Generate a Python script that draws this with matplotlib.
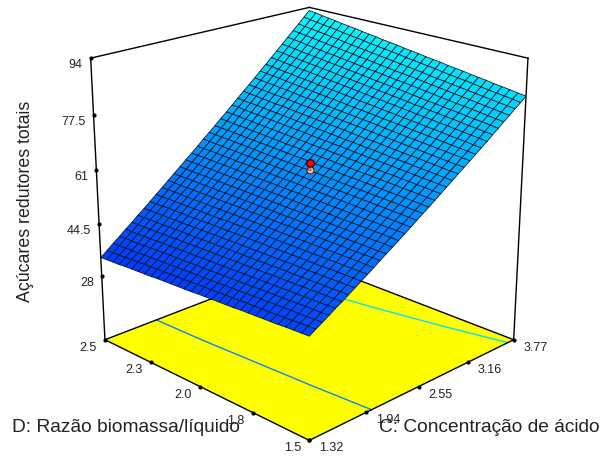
import numpy as np
import matplotlib
matplotlib.use('Agg')
import matplotlib.pyplot as plt
from matplotlib.colors import LinearSegmentedColormap, Normalize
from mpl_toolkits.mplot3d import proj3d

plt.rcParams['font.family'] = ['Liberation Sans', 'DejaVu Sans']

c_ticks = [1.32, 1.94, 2.55, 3.16, 3.77]
d_ticks = [1.5, 1.75, 2.0, 2.25, 2.5]
d_labels = ['1.5', '1.8', '2.0', '2.3', '2.5']
z_ticks = [28, 44.5, 61, 77.5, 94]
z_labels = ['28', '44.5', '61', '77.5', '94']
z_floor = 7.5

# alturas da superficie: linhas = D (1.5 a 2.5), colunas = C (1.32 a 3.77)
z_grid = [
    [37.5, 38.7, 39.8, 41.0, 42.2, 43.3, 44.5, 45.7, 46.9, 48.1, 49.3, 50.6, 51.8, 53.0, 54.2, 55.5, 56.7, 58.0, 59.3, 60.5, 61.8, 63.1, 64.4, 65.7, 67.0, 68.3, 69.6, 70.9, 72.2, 73.5, 74.9, 76.2, 77.6, 78.9, 80.3, 81.6, 83.0],
    [37.4, 38.6, 39.7, 40.9, 42.1, 43.3, 44.5, 45.7, 46.9, 48.1, 49.3, 50.6, 51.8, 53.1, 54.3, 55.6, 56.8, 58.1, 59.4, 60.6, 61.9, 63.2, 64.5, 65.8, 67.1, 68.4, 69.8, 71.1, 72.4, 73.8, 75.1, 76.5, 77.8, 79.2, 80.6, 82.0, 83.3],
    [37.3, 38.5, 39.6, 40.8, 42.0, 43.2, 44.4, 45.7, 46.9, 48.1, 49.4, 50.6, 51.8, 53.1, 54.4, 55.6, 56.9, 58.2, 59.5, 60.8, 62.1, 63.4, 64.7, 66.0, 67.3, 68.6, 70.0, 71.3, 72.7, 74.0, 75.4, 76.8, 78.1, 79.5, 80.9, 82.3, 83.7],
    [37.2, 38.3, 39.5, 40.8, 42.0, 43.2, 44.4, 45.6, 46.9, 48.1, 49.4, 50.6, 51.9, 53.1, 54.4, 55.7, 57.0, 58.3, 59.6, 60.9, 62.2, 63.5, 64.8, 66.2, 67.5, 68.8, 70.2, 71.5, 72.9, 74.3, 75.6, 77.0, 78.4, 79.8, 81.2, 82.6, 84.0],
    [37.0, 38.2, 39.5, 40.7, 41.9, 43.1, 44.4, 45.6, 46.9, 48.1, 49.4, 50.6, 51.9, 53.2, 54.5, 55.8, 57.1, 58.4, 59.7, 61.0, 62.3, 63.7, 65.0, 66.3, 67.7, 69.0, 70.4, 71.8, 73.1, 74.5, 75.9, 77.3, 78.7, 80.1, 81.5, 82.9, 84.3],
    [36.9, 38.1, 39.4, 40.6, 41.8, 43.1, 44.3, 45.6, 46.8, 48.1, 49.4, 50.7, 51.9, 53.2, 54.5, 55.8, 57.1, 58.5, 59.8, 61.1, 62.5, 63.8, 65.2, 66.5, 67.9, 69.2, 70.6, 72.0, 73.4, 74.8, 76.2, 77.6, 79.0, 80.4, 81.8, 83.2, 84.7],
    [36.8, 38.0, 39.3, 40.5, 41.8, 43.0, 44.3, 45.5, 46.8, 48.1, 49.4, 50.7, 52.0, 53.3, 54.6, 55.9, 57.2, 58.6, 59.9, 61.2, 62.6, 64.0, 65.3, 66.7, 68.1, 69.4, 70.8, 72.2, 73.6, 75.0, 76.4, 77.8, 79.2, 80.7, 82.1, 83.6, 85.0],
    [36.7, 37.9, 39.2, 40.4, 41.7, 43.0, 44.2, 45.5, 46.8, 48.1, 49.4, 50.7, 52.0, 53.3, 54.6, 56.0, 57.3, 58.7, 60.0, 61.4, 62.7, 64.1, 65.5, 66.8, 68.2, 69.6, 71.0, 72.4, 73.8, 75.3, 76.7, 78.1, 79.5, 81.0, 82.4, 83.9, 85.3],
    [36.6, 37.8, 39.1, 40.4, 41.6, 42.9, 44.2, 45.5, 46.8, 48.1, 49.4, 50.7, 52.0, 53.4, 54.7, 56.1, 57.4, 58.8, 60.1, 61.5, 62.9, 64.2, 65.6, 67.0, 68.4, 69.8, 71.2, 72.6, 74.1, 75.5, 76.9, 78.4, 79.8, 81.3, 82.7, 84.2, 85.7],
    [36.5, 37.7, 39.0, 40.3, 41.6, 42.9, 44.2, 45.5, 46.8, 48.1, 49.4, 50.7, 52.1, 53.4, 54.8, 56.1, 57.5, 58.9, 60.2, 61.6, 63.0, 64.4, 65.8, 67.2, 68.6, 70.0, 71.4, 72.9, 74.3, 75.7, 77.2, 78.6, 80.1, 81.6, 83.0, 84.5, 86.0],
    [36.3, 37.6, 38.9, 40.2, 41.5, 42.8, 44.1, 45.4, 46.8, 48.1, 49.4, 50.8, 52.1, 53.5, 54.8, 56.2, 57.6, 59.0, 60.3, 61.7, 63.1, 64.5, 65.9, 67.4, 68.8, 70.2, 71.6, 73.1, 74.5, 76.0, 77.4, 78.9, 80.4, 81.9, 83.3, 84.8, 86.3],
    [36.2, 37.5, 38.8, 40.1, 41.4, 42.7, 44.1, 45.4, 46.7, 48.1, 49.4, 50.8, 52.1, 53.5, 54.9, 56.3, 57.6, 59.0, 60.4, 61.8, 63.3, 64.7, 66.1, 67.5, 69.0, 70.4, 71.8, 73.3, 74.8, 76.2, 77.7, 79.2, 80.7, 82.2, 83.6, 85.2, 86.7],
    [36.1, 37.4, 38.7, 40.0, 41.4, 42.7, 44.0, 45.4, 46.7, 48.1, 49.4, 50.8, 52.2, 53.6, 54.9, 56.3, 57.7, 59.1, 60.6, 62.0, 63.4, 64.8, 66.2, 67.7, 69.1, 70.6, 72.1, 73.5, 75.0, 76.5, 78.0, 79.5, 81.0, 82.5, 84.0, 85.5, 87.0],
    [36.0, 37.3, 38.6, 39.9, 41.3, 42.6, 44.0, 45.3, 46.7, 48.1, 49.4, 50.8, 52.2, 53.6, 55.0, 56.4, 57.8, 59.2, 60.7, 62.1, 63.5, 65.0, 66.4, 67.9, 69.3, 70.8, 72.3, 73.8, 75.2, 76.7, 78.2, 79.8, 81.3, 82.8, 84.3, 85.8, 87.3],
    [35.9, 37.2, 38.5, 39.9, 41.2, 42.6, 43.9, 45.3, 46.7, 48.1, 49.5, 50.8, 52.2, 53.6, 55.0, 56.5, 57.9, 59.3, 60.8, 62.2, 63.7, 65.1, 66.6, 68.0, 69.5, 71.0, 72.5, 74.0, 75.5, 77.0, 78.5, 80.0, 81.5, 83.0, 84.6, 86.1, 87.7],
    [35.8, 37.1, 38.4, 39.8, 41.2, 42.5, 43.9, 45.3, 46.7, 48.1, 49.5, 50.9, 52.3, 53.7, 55.1, 56.5, 58.0, 59.4, 60.9, 62.3, 63.8, 65.3, 66.7, 68.2, 69.7, 71.2, 72.7, 74.2, 75.7, 77.2, 78.7, 80.3, 81.8, 83.3, 84.9, 86.4, 88.0],
    [35.6, 37.0, 38.3, 39.7, 41.1, 42.5, 43.9, 45.3, 46.7, 48.1, 49.5, 50.9, 52.3, 53.7, 55.2, 56.6, 58.1, 59.5, 61.0, 62.5, 63.9, 65.4, 66.9, 68.4, 69.9, 71.4, 72.9, 74.4, 75.9, 77.5, 79.0, 80.5, 82.1, 83.6, 85.2, 86.8, 88.3],
    [35.5, 36.9, 38.3, 39.6, 41.0, 42.4, 43.8, 45.2, 46.6, 48.1, 49.5, 50.9, 52.3, 53.8, 55.2, 56.7, 58.1, 59.6, 61.1, 62.6, 64.0, 65.5, 67.0, 68.6, 70.1, 71.6, 73.1, 74.6, 76.2, 77.7, 79.3, 80.8, 82.4, 83.9, 85.5, 87.1, 88.7],
    [35.4, 36.8, 38.2, 39.6, 41.0, 42.4, 43.8, 45.2, 46.6, 48.1, 49.5, 50.9, 52.4, 53.8, 55.3, 56.8, 58.2, 59.7, 61.2, 62.7, 64.2, 65.7, 67.2, 68.7, 70.2, 71.8, 73.3, 74.9, 76.4, 78.0, 79.5, 81.1, 82.6, 84.2, 85.8, 87.4, 89.0],
    [35.3, 36.7, 38.1, 39.5, 40.9, 42.3, 43.7, 45.2, 46.6, 48.1, 49.5, 51.0, 52.4, 53.9, 55.3, 56.8, 58.3, 59.8, 61.3, 62.8, 64.3, 65.8, 67.4, 68.9, 70.4, 72.0, 73.5, 75.1, 76.7, 78.2, 79.8, 81.4, 82.9, 84.5, 86.1, 87.7, 89.3],
    [35.2, 36.6, 38.0, 39.4, 40.8, 42.3, 43.7, 45.1, 46.6, 48.0, 49.5, 51.0, 52.4, 53.9, 55.4, 56.9, 58.4, 59.9, 61.4, 62.9, 64.4, 66.0, 67.5, 69.1, 70.6, 72.2, 73.7, 75.3, 76.9, 78.5, 80.0, 81.6, 83.2, 84.8, 86.4, 88.0, 89.7],
    [35.1, 36.5, 37.9, 39.3, 40.8, 42.2, 43.6, 45.1, 46.6, 48.0, 49.5, 51.0, 52.5, 54.0, 55.5, 57.0, 58.5, 60.0, 61.5, 63.1, 64.6, 66.1, 67.7, 69.2, 70.8, 72.4, 74.0, 75.5, 77.1, 78.7, 80.3, 81.9, 83.5, 85.1, 86.7, 88.4, 90.0],
    [34.9, 36.4, 37.8, 39.3, 40.7, 42.1, 43.6, 45.1, 46.5, 48.0, 49.5, 51.0, 52.5, 54.0, 55.5, 57.0, 58.6, 60.1, 61.6, 63.2, 64.7, 66.3, 67.8, 69.4, 71.0, 72.6, 74.1, 75.7, 77.3, 79.0, 80.6, 82.2, 83.8, 85.4, 87.0, 88.7, 90.3],
    [34.8, 36.3, 37.7, 39.2, 40.6, 42.1, 43.6, 45.0, 46.5, 48.0, 49.5, 51.0, 52.5, 54.1, 55.6, 57.1, 58.6, 60.2, 61.8, 63.3, 64.9, 66.4, 68.0, 69.6, 71.2, 72.8, 74.3, 76.0, 77.6, 79.2, 80.8, 82.4, 84.1, 85.7, 87.3, 89.0, 90.7],
    [34.7, 36.2, 37.6, 39.1, 40.6, 42.0, 43.5, 45.0, 46.5, 48.0, 49.5, 51.1, 52.6, 54.1, 55.6, 57.2, 58.7, 60.3, 61.9, 63.4, 65.0, 66.6, 68.2, 69.8, 71.4, 73.0, 74.6, 76.2, 77.8, 79.5, 81.1, 82.7, 84.3, 86.0, 87.7, 89.3, 91.0],
    [34.6, 36.1, 37.5, 39.0, 40.5, 42.0, 43.5, 45.0, 46.5, 48.0, 49.5, 51.1, 52.6, 54.2, 55.7, 57.3, 58.8, 60.4, 62.0, 63.5, 65.1, 66.7, 68.3, 69.9, 71.5, 73.2, 74.8, 76.4, 78.0, 79.7, 81.3, 83.0, 84.6, 86.3, 88.0, 89.7, 91.3],
    [34.5, 36.0, 37.4, 38.9, 40.4, 41.9, 43.4, 44.9, 46.5, 48.0, 49.5, 51.1, 52.6, 54.2, 55.8, 57.3, 58.9, 60.5, 62.1, 63.7, 65.3, 66.9, 68.5, 70.1, 71.7, 73.3, 75.0, 76.6, 78.3, 79.9, 81.6, 83.2, 84.9, 86.6, 88.3, 90.0, 91.7],
    [34.3, 35.8, 37.3, 38.8, 40.3, 41.9, 43.4, 44.9, 46.5, 48.0, 49.6, 51.1, 52.7, 54.2, 55.8, 57.4, 59.0, 60.6, 62.2, 63.8, 65.4, 67.0, 68.6, 70.3, 71.9, 73.5, 75.2, 76.9, 78.5, 80.2, 81.8, 83.5, 85.2, 86.9, 88.6, 90.3, 92.0],
    [34.2, 35.7, 37.2, 38.8, 40.3, 41.8, 43.4, 44.9, 46.4, 48.0, 49.6, 51.1, 52.7, 54.3, 55.9, 57.5, 59.1, 60.7, 62.3, 63.9, 65.5, 67.2, 68.8, 70.4, 72.1, 73.7, 75.4, 77.1, 78.7, 80.4, 82.1, 83.8, 85.5, 87.2, 88.9, 90.6, 92.3],
    [34.1, 35.6, 37.1, 38.7, 40.2, 41.8, 43.3, 44.9, 46.4, 48.0, 49.6, 51.2, 52.7, 54.3, 55.9, 57.5, 59.1, 60.8, 62.4, 64.0, 65.7, 67.3, 69.0, 70.6, 72.3, 73.9, 75.6, 77.3, 79.0, 80.7, 82.4, 84.1, 85.8, 87.5, 89.2, 90.9, 92.7],
    [34.0, 35.5, 37.1, 38.6, 40.2, 41.7, 43.3, 44.8, 46.4, 48.0, 49.6, 51.2, 52.8, 54.4, 56.0, 57.6, 59.2, 60.9, 62.5, 64.1, 65.8, 67.4, 69.1, 70.8, 72.5, 74.1, 75.8, 77.5, 79.2, 80.9, 82.6, 84.3, 86.1, 87.8, 89.5, 91.3, 93.0],
]
blue_c = [1.885, 1.9, 1.93, 1.96, 2.0]
blue_d = [2.5, 2.25, 2.0, 1.75, 1.5]
cyan_c = [3.22, 3.32, 3.43, 3.55, 3.69]
cyan_d = [2.5, 2.25, 2.0, 1.75, 1.5]
point_c = [2.55, 2.55]
point_d = [2.0, 2.0]
point_z = [63.0, 61.0]

fig = plt.figure(figsize=(6.05, 4.57), dpi=100)
W = 800
cx, cy = 298.5, 214.5
ax = fig.add_axes([(cx - W / 2) / 605, 1 - (cy + W / 2) / 457, W / 605, W / 457],
                  projection='3d', computed_zorder=False)
ax.set_proj_type('persp', focal_length=0.36)
ax.view_init(elev=20.5, azim=-135)
ax.set_xlim(1.32, 3.77)
ax.set_ylim(1.5, 2.5)
ax.set_zlim(z_floor, 94)
ax.set_box_aspect((1, 1, 1.005), zoom=0.629)
ax.set_axis_off()
ax.patch.set_alpha(0)

cmap = LinearSegmentedColormap.from_list('blues', ['#003cff', '#00ffff'])
norm = Normalize(35, 93)

cf, df = np.meshgrid([1.32, 3.77], [1.5, 2.5])
ax.plot_surface(cf, df, np.full((2, 2), z_floor), color='#ffff00', shade=False, linewidth=0, zorder=1)

ax.plot(blue_c, blue_d, z_floor, color='#0a84ff', lw=1, zorder=2)
ax.plot(cyan_c, cyan_d, z_floor, color='#00e0ff', lw=1, zorder=2)

for xs, ys in [([1.32, 1.32], [1.5, 2.5]), ([1.32, 3.77], [1.5, 1.5]),
               ([1.32, 3.77], [2.5, 2.5]), ([3.77, 3.77], [1.5, 2.5])]:
    ax.plot(xs, ys, z_floor, color='k', lw=1, zorder=3)
ax.plot([1.32, 1.32], [2.5, 2.5], [z_floor, 94], color='k', lw=1, zorder=3)
ax.plot([3.77, 3.77], [1.5, 1.5], [z_floor, 94], color='k', lw=1, zorder=3)
ax.plot([1.32, 3.77], [2.5, 2.5], [94, 94], color='k', lw=1, zorder=3)
ax.plot([3.77, 3.77], [2.5, 1.5], [94, 94], color='k', lw=1, zorder=3)

z_arr = np.array(z_grid)
cg, dg = np.meshgrid(np.linspace(1.32, 3.77, z_arr.shape[1]), np.linspace(1.5, 2.5, z_arr.shape[0]))
ax.plot_surface(cg, dg, z_arr, rstride=1, cstride=1, cmap=cmap, norm=norm,
                edgecolor='#101018', linewidth=0.55, shade=False, zorder=4)

ax.plot(point_c[:1], point_d[:1], point_z[:1], 'o', color='#ff0000', mec='#400000', ms=5.5, zorder=6)
ax.plot(point_c[1:], point_d[1:], point_z[1:], 'o', color='#ffb0a0', mec='#400000', ms=5, mew=0.6, zorder=7)


def tick(x, y, z, text, dx, dy, ha, size=9, order=5):
    if size == 9:
        ax.plot([x], [y], [z], 'o', color='k', ms=2, zorder=order)
    px, py, _ = proj3d.proj_transform(x, y, z, ax.get_proj())
    ax.annotate(text, (px, py), xytext=(dx, dy), textcoords='offset pixels',
                ha=ha, va='center', fontsize=size, color='#222222', zorder=8)


for v in c_ticks:
    tick(v, 1.5, z_floor, f'{v:.2f}', 22, -8, 'center')
for v, t in zip(d_ticks, d_labels):
    tick(1.32, v, z_floor, t, -17, -8, 'center')
for v, t in zip(z_ticks, z_labels):
    tick(1.32, 2.5, v, t, -8, -7, 'right')
tick(point_c[1], point_d[1], point_z[1], '6', 0, 0, 'center', size=4.5)

fig.text(12 / 605, 1 - 427 / 457, 'D: Razão biomassa/líquido', fontsize=13.8, va='center', color='#222222')
fig.text(379 / 605, 1 - 427 / 457, 'C: Concentração de ácido', fontsize=13.8, va='center', color='#222222')
fig.text(26 / 605, 1 - 201 / 457, 'Açúcares redutores totais', fontsize=12.8, rotation=90,
         ha='center', va='center', color='#222222')

fig.savefig('out.png', dpi=100)
